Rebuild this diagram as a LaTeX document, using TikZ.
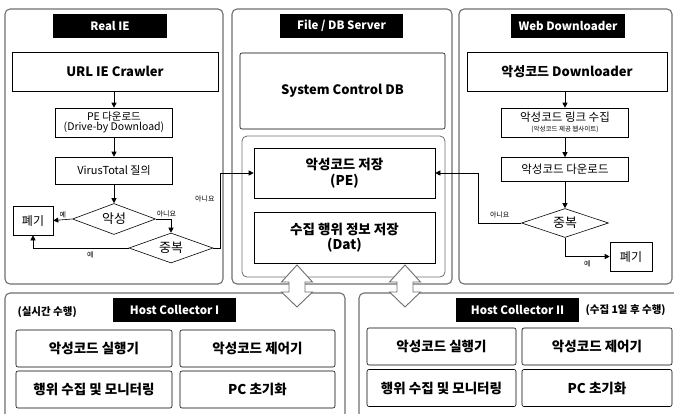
\documentclass[tikz,border=0pt]{standalone}
\usepackage{fontspec}
\setmainfont{Noto Sans CJK KR}
\usetikzlibrary{arrows.meta, shapes.geometric}
\definecolor{cgrey}{HTML}{6E6E6E}
\newcommand{\fsz}[1]{\fontsize{#1}{#1}\selectfont}
\tikzset{
  every picture/.style={line width=0.6pt},
  panel/.style={draw=cgrey, rounded corners=5pt, line width=1.1pt},
  title/.style={fill=black, text=white, font=\bfseries\fsz{11.5}, minimum width=#1, minimum height=24pt, inner sep=0pt},
  box/.style 2 args={draw=black, align=center, inner sep=0pt, minimum width=#1, minimum height=#2},
  decision/.style 2 args={diamond, draw=black, aspect=2.5, inner sep=0pt, minimum width=#1, minimum height=#2, font=\fsz{13}},
  arrow/.style={-{Triangle[length=5pt, width=5pt]}, draw=black, line width=0.6pt},
  lbl/.style={font=\fsz{7}, inner sep=1.5pt},
  cbox/.style={rounded corners=2pt, font=\bfseries\fsz{13.5}},
}

\begin{document}
\begin{tikzpicture}[x=1pt, y=-1pt]
  \useasboundingbox (0,0) rectangle (674,413);
  % panels
  \draw[panel] (5,9) rectangle (223,284);
  \draw[panel] (232,9) rectangle (452,284);
  \draw[panel] (459,9) rectangle (672,284);
  \draw[panel] (5,293) rectangle (345,440);
  \draw[panel] (359,293) rectangle (710,440);
  \draw[panel, line width=0.8pt] (242,136) rectangle (445,277);

  % Real IE
  \node[title=114pt] (realT) at (110,26) {Real IE};
  \node[box={206pt}{39pt}, font=\bfseries\fsz{13}] (crawler) at (115,71.5) {URL IE Crawler};
  \node[box={117pt}{29pt}, font=\fsz{10.5}] (pedown) at (114,122.5) {PE 다운로드\\(Drive-by Download)};
  \node[box={117pt}{27pt}, font=\fsz{11}] (virus) at (114,170.5) {VirusTotal 질의};
  \node[decision={83pt}{31pt}] (mal) at (114,219) {악성};
  \node[box={40pt}{29pt}, font=\fsz{12}] (dis1) at (33,220.5) {폐기};
  \node[decision={84pt}{30pt}] (dup1) at (171,248) {중복};
  \draw[arrow] (crawler.south -| pedown) -- (pedown.north);
  \draw[arrow] (pedown) -- (virus);
  \draw[arrow] (virus) -- (mal);
  \draw[arrow] (mal.west) -- node[lbl, midway, above] {예} (dis1.east);
  \draw[arrow] (mal.east) -| node[lbl, pos=0.35, above] {아니요} (dup1.north);
  \draw[arrow] (dup1.west) -| node[lbl, pos=0.2, below=2pt] {예} (dis1.south);

  % File / DB Server
  \node[title=123pt] (dbT) at (341.5,25.5) {File / DB Server};
  \node[box={205pt}{76pt}, rounded corners=2pt, font=\bfseries\fsz{13}] (scdb) at (342.5,91) {System Control DB};
  \node[box={181pt}{50pt}, font=\bfseries\fsz{13.5}] (store) at (344.5,173) {악성코드 저장\\[2pt](PE)};
  \node[box={181pt}{51pt}, font=\bfseries\fsz{13.5}] (dat) at (344.5,237.5) {수집 행위 정보 저장\\[2pt](Dat)};
  \draw[arrow] (dup1.east) -- ++(7,0) |- node[lbl, pos=0.33, left=4pt] {아니요} (store.west);

  % Web Downloader
  \node[title=114pt] (webT) at (568,26) {Web Downloader};
  \node[box={200pt}{39pt}, font=\bfseries\fsz{13}] (downl) at (567,71.5) {악성코드 Downloader};
  \node[box={127pt}{29pt}, font=\fsz{11.5}] (link) at (565,122.5) {악성코드 링크 수집\\[-1pt]{\fsz{6.5}(악성코드 제공 웹사이트)}};
  \node[box={127pt}{24pt}, font=\fsz{11.5}] (wdown) at (565,169.5) {악성코드 다운로드};
  \node[decision={87pt}{29pt}] (dup2) at (565,223) {중복};
  \node[box={42pt}{29pt}, font=\fsz{12}] (dis2) at (631,256.5) {폐기};
  \draw[arrow] (downl.south -| link) -- (link.north);
  \draw[arrow] (link) -- (wdown);
  \draw[arrow] (wdown) -- (dup2);
  \draw[arrow] (dup2.west) -- node[lbl, midway, above=3pt] {아니요} ++(-43,0) |- (store.east);
  \draw[arrow] (dup2.south) |- node[lbl, pos=0.75, below=2pt] {예} (dis2.west);

  % Host Collector I
  \node[title=123pt] (hc1T) at (174.5,310) {Host Collector I};
  \node[anchor=west, font=\bfseries\fsz{10.5}] (rt1) at (14,312) {(실시간 수행)};
  \node[box={156pt}{37pt}, cbox] (a1) at (94,348.5) {악성코드 실행기};
  \node[box={155pt}{37pt}, cbox] (a2) at (257.5,348.5) {악성코드 제어기};
  \node[box={156pt}{37pt}, cbox] (a3) at (94,389.5) {행위 수집 및 모니터링};
  \node[box={155pt}{37pt}, cbox] (a4) at (257.5,389.5) {PC 초기화};

  % Host Collector II
  \node[title=123pt] (hc2T) at (517.5,309.5) {Host Collector II};
  \node[anchor=west, font=\bfseries\fsz{10.5}] (rt2) at (582,310) {(수집 1일 후 수행)};
  \node[box={149pt}{37pt}, cbox] (b1) at (441.5,346.5) {악성코드 실행기};
  \node[box={150pt}{37pt}, cbox] (b2) at (597,346.5) {악성코드 제어기};
  \node[box={149pt}{37pt}, cbox] (b3) at (441.5,388) {행위 수집 및 모니터링};
  \node[box={150pt}{37pt}, cbox] (b4) at (597,388) {PC 초기화};

  % hollow double arrows between server and collectors
  \foreach \ax in {297,405}{
    \draw[fill=white, draw=cgrey, line width=0.9pt] (\ax,265) -- ++(15.5,17) -- ++(-7.5,0) -- ++(0,10) -- ++(7.5,0) -- (\ax,307)
      -- ++(-15.5,-15) -- ++(7.5,0) -- ++(0,-10) -- ++(-7.5,0) -- cycle;
  }
\end{tikzpicture}
\end{document}
